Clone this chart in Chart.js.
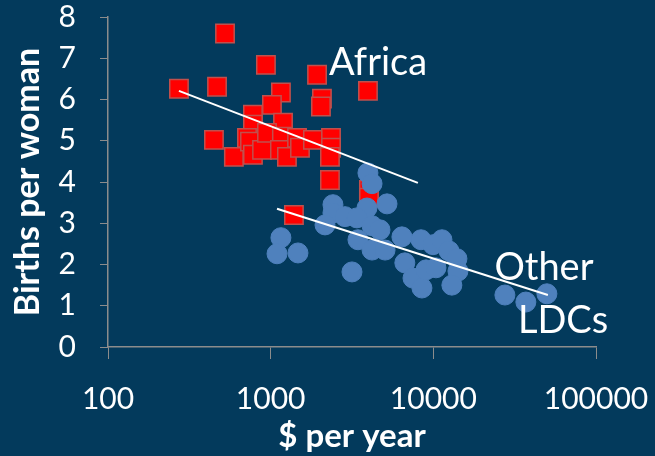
<!DOCTYPE html>
<html>
<head>
<meta charset="utf-8">
<script src="https://cdn.jsdelivr.net/npm/chart.js@4"></script>
<style>
  html, body { margin: 0; padding: 0; background: #033a5c; }
  #wrap { width: 655px; height: 456px; }
</style>
</head>
<body>
<div id="wrap"><canvas id="myChart"></canvas></div>
<script>
// income ($ per year) and births per woman
const africaIncome = [273, 468, 524, 935, 1928, 3963, 1156, 2066, 2037, 1018, 778, 1191, 778, 448, 594, 715, 746, 778, 885, 949, 1172, 1140, 1259, 1452, 1514, 1819, 2349, 2349, 2314, 2314, 4018, 4018, 1390]
const africaBirths = [6.26, 6.31, 7.60, 6.84, 6.60, 6.21, 6.17, 6.02, 5.83, 5.87, 5.63, 5.44, 5.39, 5.02, 4.61, 5.07, 4.98, 4.66, 4.78, 5.19, 5.10, 4.78, 4.61, 5.07, 4.83, 5.02, 5.07, 4.83, 4.61, 4.05, 3.81, 3.62, 3.20]

const otherIncome = [3963, 4200, 5190, 2415, 2415, 2864, 3908, 2158, 3388, 4200, 4700, 3441, 4200, 5050, 1156, 1094, 1472, 3162, 6410, 8400, 9960, 11300, 12470, 13970, 14170, 6680, 7500, 8510, 9020, 10380, 13000, 27540, 37050, 49900]
const otherBirths = [4.22, 3.96, 3.47, 3.45, 3.25, 3.16, 3.37, 2.96, 3.13, 2.94, 2.84, 2.60, 2.35, 2.35, 2.65, 2.26, 2.28, 1.82, 2.67, 2.60, 2.48, 2.60, 2.33, 2.14, 1.84, 2.04, 1.67, 1.43, 1.87, 1.92, 1.50, 1.26, 1.09, 1.29]

const africaTrendX = [273, 8035]
const africaTrendY = [6.21, 3.98]
const otherTrendX = [1094, 50600]
const otherTrendY = [3.35, 1.26]

const xTicks = [100, 1000, 10000, 100000]

const labelTexts = ['Africa', 'Other', 'LDCs']
const labelX = [4570, 47860, 62700]
const labelY = [6.89, 1.92, 0.63]

function pares(xs, ys) {
    let out = []
    for (let i = 0; i < xs.length; i++) {
        out.push({ x: xs[i], y: ys[i] })
    }
    return out
}

const etiquetas = {
    id: 'etiquetas',
    afterDatasetsDraw(chart) {
        const ctx = chart.ctx
        const sx = chart.scales.x
        const sy = chart.scales.y
        ctx.save()
        ctx.fillStyle = '#ffffff'
        ctx.font = '38px Lato'
        ctx.textAlign = 'center'
        ctx.textBaseline = 'middle'
        for (let i = 0; i < labelTexts.length; i++) {
            ctx.fillText(labelTexts[i], sx.getPixelForValue(labelX[i]), sy.getPixelForValue(labelY[i]))
        }
        ctx.restore()
    }
}

const gris = '#8c8c8c'

new Chart(document.getElementById('myChart'), {
    type: 'scatter',
    data: {
        datasets: [
            {
                label: 'Africa trend',
                data: pares(africaTrendX, africaTrendY),
                showLine: true,
                borderColor: '#ffffff',
                borderWidth: 2,
                pointRadius: 0,
                order: 0
            },
            {
                label: 'Other trend',
                data: pares(otherTrendX, otherTrendY),
                showLine: true,
                borderColor: '#ffffff',
                borderWidth: 2,
                pointRadius: 0,
                order: 0
            },
            {
                label: 'Other LDCs',
                data: pares(otherIncome, otherBirths),
                pointStyle: 'circle',
                pointRadius: 10,
                backgroundColor: '#4f81bd',
                borderColor: '#4f81bd',
                borderWidth: 1,
                order: 1
            },
            {
                label: 'Africa',
                data: pares(africaIncome, africaBirths),
                pointStyle: 'rect',
                pointRadius: 13,
                backgroundColor: '#ff0000',
                borderColor: '#c0504d',
                borderWidth: 1.5,
                order: 2
            }
        ]
    },
    options: {
        responsive: true,
        maintainAspectRatio: false,
        animation: false,
        layout: { padding: { top: 17, right: 59, left: 0, bottom: 0 } },
        plugins: {
            legend: { display: false },
            tooltip: { enabled: false }
        },
        scales: {
            x: {
                type: 'logarithmic',
                min: 100,
                max: 100000,
                afterBuildTicks: (scale) => {
                    scale.ticks = xTicks.map(v => ({ value: v }))
                },
                afterFit: (scale) => {
                    scale.height = 109
                    scale.paddingLeft = 0
                    scale.paddingRight = 0
                },
                ticks: {
                    color: '#ffffff',
                    font: { family: 'Lato', size: 30 },
                    padding: 22,
                    maxRotation: 0,
                    autoSkip: false,
                    callback: (v) => String(v)
                },
                grid: { drawOnChartArea: false, color: gris, tickLength: 12 },
                border: { color: gris, width: 1.5 },
                title: {
                    display: true,
                    text: '$ per year',
                    color: '#ffffff',
                    font: { family: 'Lato', size: 33, weight: 'bold', lineHeight: 1.2 },
                    padding: { top: 0, bottom: 0 }
                }
            },
            y: {
                min: 0,
                max: 8,
                afterFit: (scale) => {
                    scale.width = 108
                    scale.paddingTop = 0
                    scale.paddingBottom = 0
                },
                ticks: {
                    stepSize: 1,
                    color: '#ffffff',
                    font: { family: 'Lato', size: 30 },
                    padding: 24
                },
                grid: { drawOnChartArea: false, color: gris, tickLength: 8 },
                border: { color: gris, width: 1.5 },
                title: {
                    display: true,
                    text: 'Births per woman',
                    color: '#ffffff',
                    font: { family: 'Lato', size: 34, weight: 'bold', lineHeight: 1.2 },
                    padding: { top: 8, bottom: 0 }
                }
            }
        }
    },
    plugins: [etiquetas]
})
</script>
</body>
</html>
